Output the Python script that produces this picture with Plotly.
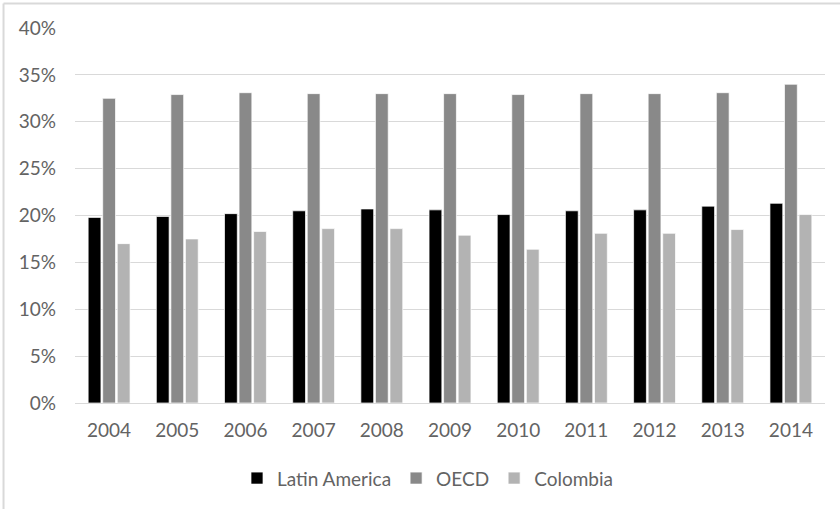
import plotly.graph_objects as go

years = ["2004", "2005", "2006", "2007", "2008", "2009", "2010", "2011", "2012", "2013", "2014"]
latin_america = [19.8, 19.9, 20.2, 20.5, 20.7, 20.6, 20.1, 20.5, 20.6, 21.0, 21.3]
oecd = [32.5, 32.9, 33.1, 33.0, 33.0, 33.0, 32.9, 33.0, 33.0, 33.1, 34.0]
colombia = [17.0, 17.5, 18.3, 18.6, 18.6, 17.9, 16.4, 18.1, 18.1, 18.5, 20.1]
y_ticks = [0, 5, 10, 15, 20, 25, 30, 35, 40]

series = [
    ("Latin America", latin_america, "#000000"),
    ("OECD", oecd, "#898989"),
    ("Colombia", colombia, "#b3b3b3"),
]

fig = go.Figure()
for name, vals, color in series:
    fig.add_trace(go.Bar(
        x=years, y=[v / 100 for v in vals], name=name,
        marker=dict(color=color, line=dict(color="rgba(255,255,255,0.7)", width=1)),
    ))

font = "Lato, 'Open Sans', sans-serif"
fig.update_layout(
    width=840, height=509,
    margin=dict(l=75, r=15, t=28, b=106),
    paper_bgcolor="white", plot_bgcolor="white",
    barmode="group", bargap=0.36, bargroupgap=0.12,
    font=dict(family=font, size=19, color="#636363"),
    showlegend=True,
    legend=dict(orientation="h", x=0.47, xanchor="center", y=-0.15, yanchor="top",
                font=dict(size=19, color="#636363"), itemwidth=30,
                traceorder="normal"),
    xaxis=dict(showgrid=False, showline=False, ticks="", tickfont=dict(size=19),
               ticklabelstandoff=14),
    yaxis=dict(range=[0, 0.40], tickvals=[t / 100 for t in y_ticks],
               ticktext=[f"{t}%" for t in y_ticks], showgrid=True,
               gridcolor="#d9d9d9", gridwidth=1, zeroline=True,
               zerolinecolor="#d9d9d9", zerolinewidth=1, showline=False,
               ticks="", tickfont=dict(size=19), ticklabelstandoff=18),
)

# chart frame (left and top edges visible)
fig.add_shape(type="line", xref="paper", yref="paper",
              x0=-0.0953, x1=1.05, y0=1.0653, y1=1.0653,
              line=dict(color="#d9d9d9", width=2))
fig.add_shape(type="line", xref="paper", yref="paper",
              x0=-0.0953, x1=-0.0953, y0=1.0653, y1=-0.35,
              line=dict(color="#d9d9d9", width=2))

fig.write_html("out.html")
